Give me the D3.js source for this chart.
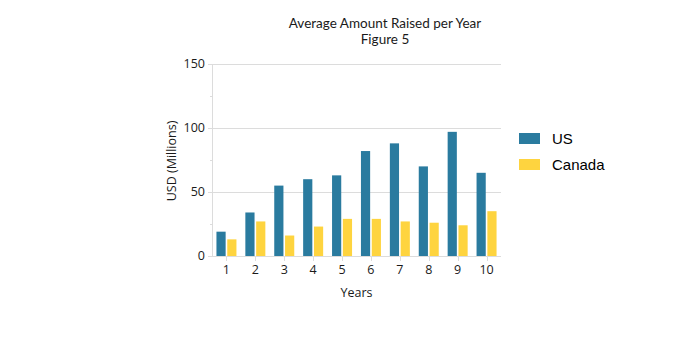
<!DOCTYPE html>
<html>
<head>
<meta charset="utf-8">
<script src="https://cdn.jsdelivr.net/npm/d3@7"></script>
<style>
  body { margin: 0; background: #fff; }
  text { font-family: "Open Sans", sans-serif; fill: #1a1a1a; }
</style>
</head>
<body>
<div id="container"></div>
<script>
/* DATA */
const years = ["1", "2", "3", "4", "5", "6", "7", "8", "9", "10"];
const usValues = [19, 34, 55, 60, 63, 82, 88, 70, 97, 65];
const canadaValues = [13, 27, 16, 23, 29, 29, 27, 26, 24, 35];
const seriesNames = ["US", "Canada"];
const yTicks = [0, 50, 100, 150];
const yMinorTicks = [25, 75, 125];
const titleLines = ["Average Amount Raised per Year", "Figure 5"];

/* CONSTANTS */
const width = 688, height = 350;
const plot = {left: 212, right: 501, top: 64, bottom: 256};
const colors = {US: "#2a7b9f", Canada: "#fed43f"};

const rows = years.map((y, i) => ({year: y, US: usValues[i], Canada: canadaValues[i]}));

// SCALES
const xScale = d3.scaleBand()
  .domain(years)
  .range([plot.left, plot.right]);

const xInner = d3.scaleBand()
  .domain(seriesNames)
  .range([0, 20])
  .paddingInner(0.15);

const yScale = d3.scaleLinear()
  .domain([0, 150])
  .range([plot.bottom, plot.top]);

// SVG
const svg = d3.select("#container")
  .append("svg")
  .attr("width", width)
  .attr("height", height);

// gridlines
svg.append("g")
  .selectAll("line")
  .data(yTicks)
  .join("line")
  .attr("x1", plot.left - 4)
  .attr("x2", plot.right)
  .attr("y1", d => yScale(d) + 0.5)
  .attr("y2", d => yScale(d) + 0.5)
  .attr("stroke", "#dcdcdc")
  .attr("stroke-width", 1);

// minor ticks
svg.append("g")
  .selectAll("line")
  .data(yMinorTicks)
  .join("line")
  .attr("x1", plot.left - 2)
  .attr("x2", plot.left)
  .attr("y1", d => Math.round(yScale(d)) + 0.5)
  .attr("y2", d => Math.round(yScale(d)) + 0.5)
  .attr("stroke", "#dcdcdc");

// y axis line
svg.append("line")
  .attr("x1", plot.left + 0.5)
  .attr("x2", plot.left + 0.5)
  .attr("y1", plot.top)
  .attr("y2", plot.bottom)
  .attr("stroke", "#dcdcdc");

// y tick labels
svg.append("g")
  .selectAll("text")
  .data(yTicks)
  .join("text")
  .attr("x", plot.left - 7)
  .attr("y", d => yScale(d) + 4)
  .attr("text-anchor", "end")
  .style("font-size", "12.5px")
  .text(d => d);

// bars
const groups = svg.append("g")
  .selectAll("g")
  .data(rows)
  .join("g")
  .attr("transform", d => `translate(${xScale(d.year) + (xScale.bandwidth() - 20) / 2},0)`);

groups.selectAll("rect")
  .data(d => seriesNames.map(k => ({key: k, value: d[k]})))
  .join("rect")
  .attr("x", d => xInner(d.key))
  .attr("width", xInner.bandwidth())
  .attr("y", d => yScale(d.value))
  .attr("height", d => yScale(0) - yScale(d.value))
  .attr("fill", d => colors[d.key]);

// x ticks
svg.append("g")
  .selectAll("line")
  .data(years)
  .join("line")
  .attr("x1", d => Math.round(xScale(d) + xScale.bandwidth() / 2) + 0.5)
  .attr("x2", d => Math.round(xScale(d) + xScale.bandwidth() / 2) + 0.5)
  .attr("y1", plot.bottom)
  .attr("y2", plot.bottom + 5)
  .attr("stroke", "#dcdcdc");

svg.append("g")
  .selectAll("text")
  .data(years)
  .join("text")
  .attr("x", d => xScale(d) + xScale.bandwidth() / 2)
  .attr("y", 274)
  .attr("text-anchor", "middle")
  .style("font-size", "12.5px")
  .text(d => d);

// axis titles
svg.append("text")
  .attr("x", (plot.left + plot.right) / 2)
  .attr("y", 297)
  .attr("text-anchor", "middle")
  .style("font-size", "12.5px")
  .text("Years");

svg.append("text")
  .attr("transform", "translate(176,161) rotate(-90)")
  .attr("text-anchor", "middle")
  .style("font-size", "12.5px")
  .text("USD (Millions)");

// title (Lato has a tighter line box, so the two lines sit close without overlap)
svg.append("g")
  .selectAll("text")
  .data(titleLines)
  .join("text")
  .attr("x", 385)
  .attr("y", (d, i) => 28 + i * 16)
  .attr("text-anchor", "middle")
  .style("font-family", "Lato, 'Open Sans', sans-serif")
  .style("font-size", "13.5px")
  .text(d => d);

// legend
const legend = svg.append("g")
  .selectAll("g")
  .data(seriesNames)
  .join("g")
  .attr("transform", (d, i) => `translate(519,${133 + i * 26})`);

legend.append("rect")
  .attr("width", 21)
  .attr("height", 11)
  .attr("fill", d => colors[d]);

legend.append("text")
  .attr("x", 33)
  .attr("y", 11)
  .style("font-family", "'Liberation Sans', Arial, sans-serif")
  .style("font-size", "15px")
  .style("fill", "#000")
  .text(d => d);
</script>
</body>
</html>
